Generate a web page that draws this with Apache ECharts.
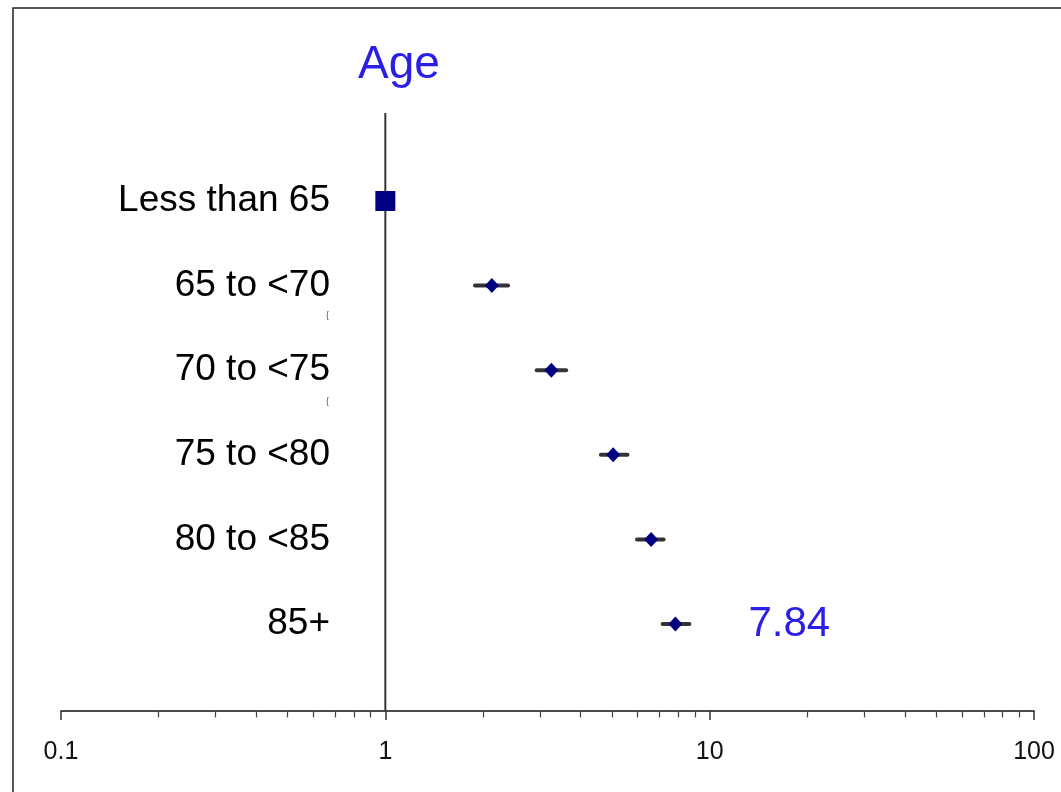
<!DOCTYPE html>
<html>
<head>
<meta charset="utf-8">
<script src="https://cdn.jsdelivr.net/npm/echarts@6/dist/echarts.min.js"></script>
<style>
html,body{margin:0;padding:0;background:#fff;}
#chart{width:1061px;height:792px;}
</style>
</head>
<body>
<div id="chart"></div>
<script>
// ---- data ----
const titleText = 'Age';
const categories = ['Less than 65', '65 to <70', '70 to <75', '75 to <80', '80 to <85', '85+'];
const estimates = [1, 2.13, 3.25, 5.04, 6.60, 7.84];
const lower = [null, 1.89, 2.93, 4.62, 5.97, 7.16];
const upper = [null, 2.39, 3.61, 5.58, 7.21, 8.66];
const labelledRow = 5;
const refValue = 1;
const majorTicks = [0.1, 1, 10, 100];
const minorTicks = [0.2,0.3,0.4,0.5,0.6,0.7,0.8,0.9,2,3,4,5,6,7,8,9,20,30,40,50,60,70,80,90];

const BLUE = '#2b1fe6';
const NAVY = '#000080';
const FONT = 'Liberation Sans, Arial, sans-serif';

const chart = echarts.init(document.getElementById('chart'), null, {renderer: 'canvas'});

const pointData = estimates.map((v, i) => {
  const item = {
    value: [v, categories[i]],
    symbol: i === 0 ? 'rect' : 'diamond',
    symbolSize: i === 0 ? 20 : [14, 15]
  };
  if (i === labelledRow) {
    item.label = {
      show: true, position: 'right', distance: 66,
      formatter: String(v), color: BLUE, fontSize: 42, fontFamily: FONT
    };
  }
  return item;
});

const ciData = [];
categories.forEach((c, i) => {
  if (lower[i] != null) ciData.push([lower[i], upper[i], c]);
});

const option = {
  animation: false,
  backgroundColor: '#fff',
  title: {
    text: titleText, left: 353, top: 37,
    textStyle: {color: BLUE, fontSize: 46, fontWeight: 'normal', fontFamily: FONT}
  },
  grid: [
    {left: 61, right: 27, top: 113, bottom: 81},
    {left: 61, right: 27, top: 158.7, bottom: 125.7}
  ],
  xAxis: [
    {
      type: 'log', logBase: 10, min: 0.1, max: 100, gridIndex: 0, position: 'bottom',
      axisLine: {show: true, lineStyle: {color: '#111', width: 1.5}},
      axisTick: {show: true, length: 9, customValues: majorTicks, lineStyle: {color: '#333', width: 1.5}},
      axisLabel: {
        show: true, customValues: majorTicks, margin: 29, color: '#111', fontSize: 25, fontFamily: FONT,
        formatter: v => String(v)
      },
      splitLine: {show: false}, minorTick: {show: false}
    },
    {
      type: 'log', logBase: 10, min: 0.1, max: 100, gridIndex: 0, position: 'bottom',
      axisLine: {show: false},
      axisTick: {show: true, length: 6.5, customValues: minorTicks, lineStyle: {color: '#444', width: 1.2}},
      axisLabel: {show: false},
      splitLine: {show: false}
    },
    {
      type: 'log', logBase: 10, min: 0.1, max: 100, gridIndex: 1, show: false
    }
  ],
  yAxis: [
    {type: 'value', min: 0, max: 1, gridIndex: 0, show: false},
    {
      type: 'category', data: categories, inverse: true, gridIndex: 1,
      offset: -269,
      axisLine: {show: false}, axisTick: {show: false}, splitLine: {show: false},
      axisLabel: {show: true, margin: 0, color: '#000', fontSize: 37, fontFamily: FONT, padding: [8, 0, 0, 0]}
    }
  ],
  graphic: [
    {type: 'rect', shape: {x: 13, y: 8, width: 1200, height: 900}, style: {fill: null, stroke: '#222', lineWidth: 1.5}, silent: true},
    {type: 'text', x: 326, y: 311, style: {text: '{', fontSize: 9, fill: '#555', fontFamily: FONT}},
    {type: 'text', x: 326, y: 397, style: {text: '{', fontSize: 9, fill: '#555', fontFamily: FONT}}
  ],
  series: [
    {
      name: 'ref', type: 'line', xAxisIndex: 0, yAxisIndex: 0,
      data: [[refValue, 0], [refValue, 1]], symbol: 'none',
      lineStyle: {color: '#333', width: 2}, z: 1, silent: true
    },
    {
      name: 'ci', type: 'custom', xAxisIndex: 2, yAxisIndex: 1,
      data: ciData,
      renderItem: function (params, api) {
        const p1 = api.coord([api.value(0), api.value(2)]);
        const p2 = api.coord([api.value(1), api.value(2)]);
        return {
          type: 'line',
          shape: {x1: p1[0], y1: p1[1], x2: p2[0], y2: p2[1]},
          style: {stroke: '#333', lineWidth: 4, lineCap: 'round'}
        };
      },
      encode: {x: [0, 1], y: 2},
      z: 2, silent: true
    },
    {
      name: 'est', type: 'scatter', xAxisIndex: 2, yAxisIndex: 1,
      data: pointData,
      itemStyle: {color: NAVY, opacity: 1},
      z: 3, silent: true
    }
  ]
};
chart.setOption(option);
</script>
</body>
</html>
